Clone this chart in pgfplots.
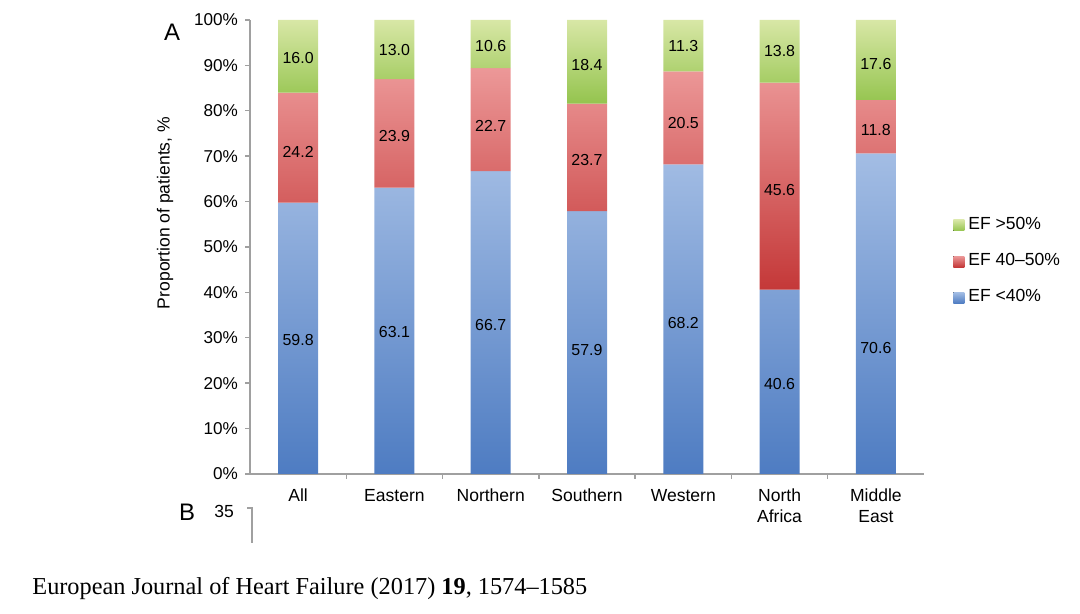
\documentclass[border=0pt]{standalone}
\usepackage{fontspec}
\setmainfont{Liberation Sans}
\newfontfamily\timesfont{Liberation Serif}
\usepackage{pgfplots}
\pgfplotsset{compat=1.18}

\definecolor{blueT}{RGB}{163,189,228}
\definecolor{blueB}{RGB}{78,124,194}
\definecolor{redT}{RGB}{236,152,152}
\definecolor{redB}{RGB}{196,56,56}
\definecolor{greenT}{RGB}{216,231,166}
\definecolor{greenB}{RGB}{148,196,78}
\definecolor{axisgray}{RGB}{160,160,160}

\newcommand{\labfont}{\fontsize{8}{9.6}\selectfont}
\newcommand{\txtfont}{\fontsize{8.8}{10.4}\selectfont}
\tikzset{seglabel/.style={font=\labfont, text=black, inner sep=0pt}}

\begin{document}
\begin{tikzpicture}
% page frame: 540bp x 307bp (half a reference pixel per bp)
\useasboundingbox (0,0) rectangle (540bp,307bp);

\begin{axis}[
  at={(125bp,70bp)}, anchor=south west,
  scale only axis, width=337bp, height=227bp,
  ybar stacked, bar width=20bp, reverse stacked plots=false,
  xmin=-0.5, xmax=6.5, ymin=0, ymax=100,
  axis x line*=bottom, axis y line*=left,
  axis line style={axisgray, line width=0.7bp},
  tick style={axisgray, line width=0.7bp},
  tick align=outside, major tick length=2.5bp, minor tick length=2.5bp,
  xtick={0,...,6},
  xticklabels={All,Eastern,Northern,Southern,Western,North\\Africa,Middle\\East},
  x tick label style={align=center, font=\txtfont, yshift=-1.5bp},
  major x tick style={draw=none},
  minor xtick={0.5,1.5,2.5,3.5,4.5,5.5},
  ytick={0,10,...,100},
  yticklabel={\pgfmathprintnumber{\tick}\%},
  y tick label style={font=\fontsize{8.6}{10}\selectfont},
  /pgf/number format/assume math mode=true,
  reverse legend,
  legend style={at={(1.043,0.469)}, anchor=west, draw=none, fill=none,
    font=\txtfont, row sep=6.5bp, inner sep=0pt},
  legend cell align=left,
  legend image code/.code={\fill[#1] (0bp,-3bp) rectangle (5.5bp,2.5bp);},
  clip=false,
]
\addplot[draw=none, top color=blueT, bottom color=blueB]
  coordinates {(0,59.8) (1,63.1) (2,66.7) (3,57.9) (4,68.2) (5,40.6) (6,70.6)};
\addplot[draw=none, top color=redT, bottom color=redB]
  coordinates {(0,24.2) (1,23.9) (2,22.7) (3,23.7) (4,20.5) (5,45.6) (6,11.8)};
\addplot[draw=none, top color=greenT, bottom color=greenB]
  coordinates {(0,16.0) (1,13.0) (2,10.6) (3,18.4) (4,11.3) (5,13.8) (6,17.6)};
\legend{EF <40\%, EF 40--50\%, EF >50\%}

\node[seglabel] at (axis cs:0,91.6) {16.0};
\node[seglabel] at (axis cs:0,70.9) {24.2};
\node[seglabel] at (axis cs:0,29.5) {59.8};
\node[seglabel] at (axis cs:1,93.4) {13.0};
\node[seglabel] at (axis cs:1,74.4) {23.9};
\node[seglabel] at (axis cs:1,31.3) {63.1};
\node[seglabel] at (axis cs:2,94.3) {10.6};
\node[seglabel] at (axis cs:2,76.7) {22.7};
\node[seglabel] at (axis cs:2,32.8) {66.7};
\node[seglabel] at (axis cs:3,90.1) {18.4};
\node[seglabel] at (axis cs:3,69.2) {23.7};
\node[seglabel] at (axis cs:3,27.3) {57.9};
\node[seglabel] at (axis cs:4,94.3) {11.3};
\node[seglabel] at (axis cs:4,77.3) {20.5};
\node[seglabel] at (axis cs:4,33.3) {68.2};
\node[seglabel] at (axis cs:5,93.2) {13.8};
\node[seglabel] at (axis cs:5,62.6) {45.6};
\node[seglabel] at (axis cs:5,19.8) {40.6};
\node[seglabel] at (axis cs:6,90.3) {17.6};
\node[seglabel] at (axis cs:6,75.8) {11.8};
\node[seglabel] at (axis cs:6,27.8) {70.6};
\end{axis}

% y label, panel letters, start of panel B, source line
\node[rotate=90, font=\txtfont] at (82.5bp,200.5bp) {Proportion of patients, \%};
\node[font=\fontsize{12}{14}\selectfont] at (86bp,291bp) {A};
\node[font=\fontsize{12}{14}\selectfont] at (93.5bp,51bp) {B};
\node[font=\fontsize{8.8}{10}\selectfont, anchor=east] at (120.5bp,51.5bp) {35};
\draw[axisgray, line width=0.7bp] (123.5bp,53bp) -- (126bp,53bp) -- (126bp,35.5bp);
\node[font=\timesfont\fontsize{12.2}{14}\selectfont, anchor=west, inner sep=0pt] at (16bp,12.5bp)
  {European Journal of Heart Failure (2017) \textbf{19}, 1574–1585};
\end{tikzpicture}
\end{document}
